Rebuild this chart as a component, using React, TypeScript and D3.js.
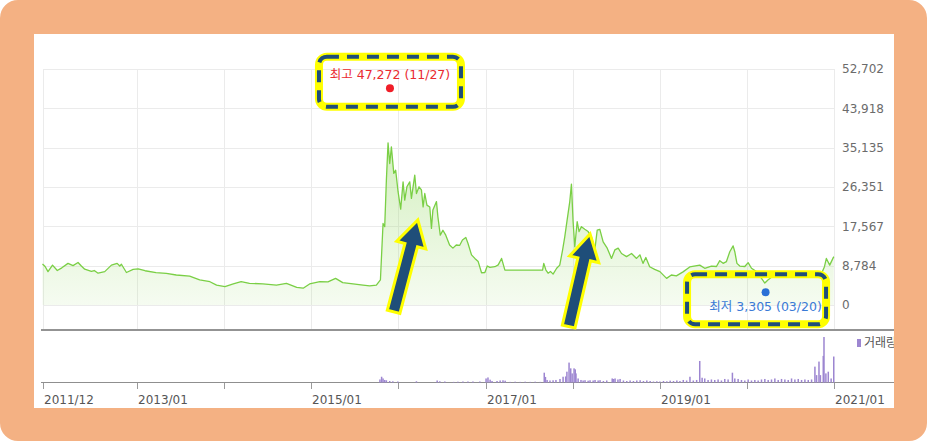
import * as d3 from 'd3';

// closing price
const priceData: [string, number][] = [
  ['2011-12-01', 9150], ['2011-12-12', 8600], ['2011-12-24', 7450], ['2012-01-12', 8900],
  ['2012-02-01', 7700], ['2012-02-20', 8300], ['2012-03-17', 9300], ['2012-04-07', 8800],
  ['2012-04-28', 9500], ['2012-05-12', 8700], ['2012-05-26', 8000], ['2012-06-23', 7500],
  ['2012-07-05', 7700], ['2012-07-21', 7100], ['2012-08-18', 7450], ['2012-09-15', 8900],
  ['2012-10-09', 9300], ['2012-10-20', 8700], ['2012-10-27', 9100], ['2012-11-17', 7250],
  ['2012-12-15', 7950], ['2013-01-05', 8050], ['2013-02-03', 7650], ['2013-03-21', 7250],
  ['2013-05-03', 7050], ['2013-06-14', 6700], ['2013-08-09', 6450], ['2013-09-20', 5600],
  ['2013-11-02', 5200], ['2013-11-30', 4450], ['2014-01-04', 4100], ['2014-02-08', 4700],
  ['2014-03-13', 5200], ['2014-04-17', 4850], ['2014-06-12', 4700], ['2014-08-08', 4450],
  ['2014-09-19', 4850], ['2014-11-01', 3950], ['2014-11-28', 3750], ['2014-12-25', 4700],
  ['2015-02-06', 5200], ['2015-03-12', 5150], ['2015-04-13', 5950], ['2015-05-13', 5000],
  ['2015-06-25', 4700], ['2015-08-06', 4450], ['2015-09-03', 4250], ['2015-10-01', 4450],
  ['2015-10-18', 5600], ['2015-10-29', 18200], ['2015-11-05', 17500], ['2015-11-12', 27900],
  ['2015-11-19', 36200], ['2015-11-26', 31600], ['2015-12-03', 35300], ['2015-12-13', 29400],
  ['2015-12-21', 30100], ['2015-12-31', 25300], ['2016-01-11', 21400], ['2016-01-21', 27500],
  ['2016-01-28', 23400], ['2016-02-06', 26400], ['2016-02-18', 27500], ['2016-02-25', 23800],
  ['2016-03-10', 29000], ['2016-03-17', 24900], ['2016-03-28', 26400], ['2016-04-07', 25700],
  ['2016-04-14', 21900], ['2016-04-21', 24900], ['2016-04-30', 22300], ['2016-05-12', 21900],
  ['2016-05-19', 17100], ['2016-05-25', 21200], ['2016-06-09', 23100], ['2016-06-15', 19700],
  ['2016-06-25', 15600], ['2016-07-06', 16700], ['2016-07-18', 15600], ['2016-08-03', 13400],
  ['2016-08-17', 12700], ['2016-08-31', 13400], ['2016-09-14', 13300], ['2016-09-26', 14500],
  ['2016-10-10', 15100], ['2016-10-19', 13800], ['2016-11-03', 11200], ['2016-11-17', 10400],
  ['2016-12-01', 9700], ['2016-12-15', 7200], ['2016-12-29', 7250], ['2017-01-08', 8700],
  ['2017-01-19', 8400], ['2017-02-09', 8550], ['2017-02-23', 8950], ['2017-03-09', 10400],
  ['2017-03-23', 7800], ['2017-08-28', 7800], ['2017-09-02', 9300], ['2017-09-11', 7800],
  ['2017-09-20', 7100], ['2017-09-30', 7500], ['2017-10-11', 6900], ['2017-10-26', 8200],
  ['2017-11-08', 8900], ['2017-11-20', 12300], ['2017-11-29', 15200], ['2017-12-09', 19000],
  ['2017-12-20', 23100], ['2017-12-27', 27000], ['2018-01-03', 18600], ['2018-01-10', 13000],
  ['2018-01-20', 18600], ['2018-01-28', 16400], ['2018-02-07', 17500], ['2018-02-21', 16900],
  ['2018-03-07', 16400], ['2018-03-21', 15200], ['2018-04-04', 12300], ['2018-04-14', 16700],
  ['2018-04-25', 16900], ['2018-05-09', 14100], ['2018-05-26', 12700], ['2018-06-13', 10400],
  ['2018-06-27', 12300], ['2018-07-11', 12700], ['2018-07-25', 11500], ['2018-08-15', 10800],
  ['2018-09-05', 11500], ['2018-09-26', 10400], ['2018-10-10', 11200], ['2018-10-23', 9300],
  ['2018-11-04', 10600], ['2018-11-20', 8550], ['2018-12-11', 7950], ['2019-01-02', 7450],
  ['2019-01-30', 5950], ['2019-02-19', 6700], ['2019-03-12', 6500], ['2019-04-09', 7400],
  ['2019-05-07', 8500], ['2019-06-18', 8900], ['2019-07-09', 8200], ['2019-08-06', 8700],
  ['2019-08-27', 8600], ['2019-09-10', 9900], ['2019-09-24', 9300], ['2019-10-08', 9700],
  ['2019-10-22', 11900], ['2019-11-05', 13200], ['2019-11-12', 11900], ['2019-11-21', 9300],
  ['2019-12-03', 8700], ['2019-12-24', 8600], ['2020-01-07', 9450], ['2020-01-21', 8200],
  ['2020-02-11', 7450], ['2020-03-03', 5950], ['2020-03-17', 4900], ['2020-03-30', 5600],
  ['2020-04-28', 6800], ['2020-05-26', 7300], ['2020-06-23', 6900], ['2020-07-21', 7400],
  ['2020-08-18', 7000], ['2020-09-15', 7300], ['2020-10-13', 7000], ['2020-11-11', 7200],
  ['2020-11-22', 8550], ['2020-11-30', 10400], ['2020-12-14', 8900], ['2020-12-31', 10800],
];

// traded volume (thousand shares)
const volumeData: [string, number][] = [
  ['2015-10-16', 30], ['2015-10-23', 57], ['2015-10-29', 40], ['2015-11-05', 25],
  ['2015-11-12', 22], ['2015-11-26', 15], ['2015-12-09', 12], ['2015-12-30', 10],
  ['2016-03-17', 12], ['2016-06-12', 20], ['2016-06-23', 12], ['2016-07-14', 10],
  ['2016-08-20', 6], ['2016-09-07', 8], ['2016-09-28', 10], ['2016-10-19', 10],
  ['2016-11-09', 10], ['2016-12-08', 10], ['2017-01-03', 40], ['2017-01-11', 50],
  ['2017-01-20', 28], ['2017-01-28', 15], ['2017-02-18', 15], ['2017-03-03', 20],
  ['2017-03-15', 22], ['2017-03-24', 18], ['2017-04-14', 6], ['2017-05-05', 8],
  ['2017-05-26', 6], ['2017-06-16', 8], ['2017-07-07', 6], ['2017-07-28', 8],
  ['2017-08-18', 6], ['2017-09-04', 97], ['2017-09-09', 55], ['2017-09-16', 25],
  ['2017-09-28', 20], ['2017-10-11', 22], ['2017-10-23', 25], ['2017-11-09', 35],
  ['2017-11-22', 57], ['2017-12-03', 60], ['2017-12-08', 107], ['2017-12-17', 197],
  ['2017-12-24', 140], ['2017-12-30', 90], ['2018-01-07', 140], ['2018-01-12', 130],
  ['2018-01-15', 90], ['2018-01-24', 40], ['2018-02-05', 25], ['2018-02-14', 20],
  ['2018-02-22', 23], ['2018-03-07', 18], ['2018-03-15', 22], ['2018-03-28', 20],
  ['2018-04-05', 25], ['2018-04-18', 20], ['2018-04-26', 23], ['2018-05-10', 15],
  ['2018-05-24', 20], ['2018-06-16', 40], ['2018-06-22', 35], ['2018-06-28', 40],
  ['2018-07-10', 30], ['2018-07-19', 35], ['2018-08-02', 20], ['2018-08-16', 15],
  ['2018-08-30', 20], ['2018-09-13', 15], ['2018-09-27', 20], ['2018-10-11', 22],
  ['2018-10-25', 15], ['2018-11-08', 20], ['2018-11-22', 15], ['2018-12-06', 10],
  ['2018-12-20', 12], ['2019-01-02', 10], ['2019-01-17', 15], ['2019-01-31', 12],
  ['2019-02-14', 18], ['2019-02-28', 15], ['2019-03-14', 20], ['2019-03-27', 15],
  ['2019-04-10', 25], ['2019-04-24', 20], ['2019-05-08', 57], ['2019-05-22', 20],
  ['2019-06-05', 25], ['2019-06-18', 213], ['2019-06-28', 47], ['2019-07-09', 40],
  ['2019-07-23', 25], ['2019-08-06', 30], ['2019-08-20', 25], ['2019-09-03', 30],
  ['2019-09-17', 20], ['2019-10-01', 35], ['2019-10-15', 30], ['2019-11-02', 97],
  ['2019-11-12', 40], ['2019-11-26', 35], ['2019-12-10', 25], ['2019-12-24', 20],
  ['2020-01-07', 30], ['2020-01-21', 20], ['2020-02-04', 25], ['2020-02-18', 20],
  ['2020-03-03', 30], ['2020-03-17', 35], ['2020-03-31', 25], ['2020-04-14', 30],
  ['2020-04-28', 40], ['2020-05-12', 25], ['2020-05-26', 35], ['2020-06-09', 30],
  ['2020-06-23', 25], ['2020-07-07', 40], ['2020-07-21', 30], ['2020-08-04', 35],
  ['2020-08-18', 25], ['2020-09-01', 30], ['2020-09-15', 25], ['2020-09-29', 30],
  ['2020-10-13', 157], ['2020-10-20', 73], ['2020-10-30', 207], ['2020-11-05', 73],
  ['2020-11-17', 263], ['2020-11-20', 450], ['2020-11-28', 90], ['2020-12-08', 107],
  ['2020-12-20', 40], ['2020-12-31', 257],
];

const priceTicks = [0, 8784, 17567, 26351, 35135, 43918, 52702];
const timeTicks = [
  '2011-12-01', '2013-01-01', '2014-01-01', '2015-01-01', '2016-01-01',
  '2017-01-01', '2018-01-01', '2019-01-01', '2020-01-01', '2021-01-01',
];
const timeLabels = ['2011/12', '2013/01', '', '2015/01', '', '2017/01', '', '2019/01', '', '2021/01'];

const highMark = { date: '2015-11-27', value: 47272, label: '최고 47,272 (11/27)' };
const lowMark = { date: '2020-03-20', value: 3305, label: '최저 3,305 (03/20)' };

// arrow tips sit on the price line, angle in degrees from vertical
const arrowNotes = [
  { date: '2016-03-23', value: 18980, angle: 14.8 },
  { date: '2018-03-15', value: 15850, angle: 13 },
];

const W = 928;
const H = 442;
const left = 42.5;
const right = 834;
const priceTop = 69;
const priceZero = 305;
const priceBottom = 330;
const volTop = 337;
const volBase = 382.5;
const font = "'DejaVu Sans', 'Noto Sans CJK KR', sans-serif";

const parse = d3.timeParse('%Y-%m-%d');

type Pt = { date: Date; value: number };

function Arrow({ x, y, angle }: { x: number; y: number; angle: number }) {
  const pts = [
    [0, 0], [15, 26], [6.5, 26], [6.5, 95], [-6.5, 95], [-6.5, 26], [-15, 26],
  ];
  return (
    <polygon
      points={pts.map((p) => p.join(',')).join(' ')}
      transform={`translate(${x},${y}) rotate(${angle})`}
      fill="#1f4e79"
      stroke="#ffff00"
      strokeWidth={3}
      strokeLinejoin="miter"
    />
  );
}

function NoteBox({ x0, y0, x1, y1 }: { x0: number; y0: number; x1: number; y1: number }) {
  return (
    <g fill="none">
      <rect x={x0} y={y0} width={x1 - x0} height={y1 - y0} rx={8} stroke="#ffff00" strokeWidth={8} />
      <rect
        x={x0}
        y={y0}
        width={x1 - x0}
        height={y1 - y0}
        rx={8}
        stroke="#1f4e79"
        strokeWidth={4}
        strokeDasharray="12 8"
      />
    </g>
  );
}

export default function App() {
  const x = d3
    .scaleTime()
    .domain([parse('2011-12-01')!, parse('2021-01-01')!])
    .range([left, right]);
  const y = d3.scaleLinear().domain([0, 52702]).range([priceZero, priceTop]);
  const vy = d3.scaleLinear().domain([0, 450]).range([volBase, volTop]);

  const pts: Pt[] = priceData.map(([d, v]) => ({ date: parse(d)!, value: v }));
  const line = d3
    .line<Pt>()
    .x((d) => x(d.date))
    .y((d) => y(d.value));
  const area = d3
    .area<Pt>()
    .x((d) => x(d.date))
    .y0(y(0))
    .y1((d) => y(d.value));

  const ticks = timeTicks.map((t) => Math.round(x(parse(t)!)) + 0.5);

  const hx = x(parse(highMark.date)!);
  const hy = y(highMark.value) - 5;
  const lx = x(parse(lowMark.date)!);
  const ly = y(lowMark.value) + 2;

  return (
    <div style={{ position: 'fixed', left: 0, top: 0 }}>
      <svg width={W} height={H} style={{ display: 'block', fontFamily: font }}>
        <defs>
          <linearGradient id="fillGrad" gradientUnits="userSpaceOnUse" x1={0} x2={0} y1={y(36000)} y2={y(0)}>
            <stop offset="0%" stopColor="#9fdc72" stopOpacity={0.45} />
            <stop offset="100%" stopColor="#9fdc72" stopOpacity={0.1} />
          </linearGradient>
        </defs>
        <rect x={0} y={0} width={W} height={H} fill="#ffffff" />

        {/* price grid */}
        <g stroke="#ebebeb" strokeWidth={1} shapeRendering="crispEdges">
          {priceTicks.map((t) => (
            <line key={t} x1={left} x2={right} y1={Math.round(y(t)) + 0.5} y2={Math.round(y(t)) + 0.5} />
          ))}
          {ticks.map((tx, i) => (
            <line key={i} x1={tx} x2={tx} y1={priceTop} y2={priceBottom} />
          ))}
        </g>

        <path d={area(pts) ?? ''} fill="url(#fillGrad)" />
        <path d={line(pts) ?? ''} fill="none" stroke="#7acf45" strokeWidth={1.3} strokeLinejoin="round" />

        {/* price labels */}
        <g fontSize={12} fill="#6b6b6b">
          {priceTicks.map((t) => (
            <text key={t} x={842} y={y(t)} dy="0.36em">
              {d3.format(',')(t)}
            </text>
          ))}
        </g>

        {/* separators */}
        <line x1={41} x2={894} y1={priceBottom} y2={priceBottom} stroke="#939393" strokeWidth={2} />
        <line x1={41} x2={894} y1={volBase} y2={volBase} stroke="#8f8f8f" strokeWidth={1} />

        {/* volume */}
        <g fill="#9d86d1">
          {volumeData.map(([d, v]) => {
            const bx = x(parse(d)!);
            return <rect key={d} x={bx - 0.75} y={vy(v)} width={1.5} height={volBase - vy(v)} />;
          })}
        </g>

        {/* time axis */}
        <g stroke="#9a9a9a" shapeRendering="crispEdges">
          {ticks.map((tx, i) => (
            <line key={i} x1={tx} x2={tx} y1={volBase} y2={volBase + 6} />
          ))}
        </g>
        <g fontSize={12} fill="#555555">
          {ticks.map((tx, i) =>
            timeLabels[i] ? (
              <text key={i} x={tx + 0.5} y={403.5}>
                {timeLabels[i]}
              </text>
            ) : null,
          )}
        </g>

        {/* volume legend */}
        <rect x={857} y={339} width={4} height={8} fill="#9d86d1" />
        <text x={864} y={347} fontSize={12} fill="#555555">
          거래량
        </text>

        {/* high / low markers */}
        <circle cx={hx} cy={hy} r={4} fill="#f01e28" />
        <text x={hx} y={hy - 9} textAnchor="middle" fontSize={12.5} fill="#ea2a30">
          {highMark.label}
        </text>
        <circle cx={lx} cy={ly} r={4} fill="#2a6fd6" />
        <text x={lx} y={ly + 18.5} textAnchor="middle" fontSize={12.5} fill="#3a7ad6">
          {lowMark.label}
        </text>

        {/* orange frame */}
        <path
          d={`M18,0 H909 A18,18 0 0 1 927,18 V423 A18,18 0 0 1 909,441 H18 A18,18 0 0 1 0,423 V18 A18,18 0 0 1 18,0 Z M34,34 V408 H894 V34 Z`}
          fill="#f4b183"
          fillRule="evenodd"
        />

        {/* annotations */}
        <NoteBox x0={hx - 71} y0={hy - 31.5} x1={hx + 71} y1={hy + 18.5} />
        <NoteBox x0={lx - 78.5} y0={ly - 18} x1={lx + 60.5} y1={ly + 32} />
        {arrowNotes.map((a) => (
          <Arrow key={a.date} x={x(parse(a.date)!)} y={y(a.value)} angle={a.angle} />
        ))}
      </svg>
    </div>
  );
}
